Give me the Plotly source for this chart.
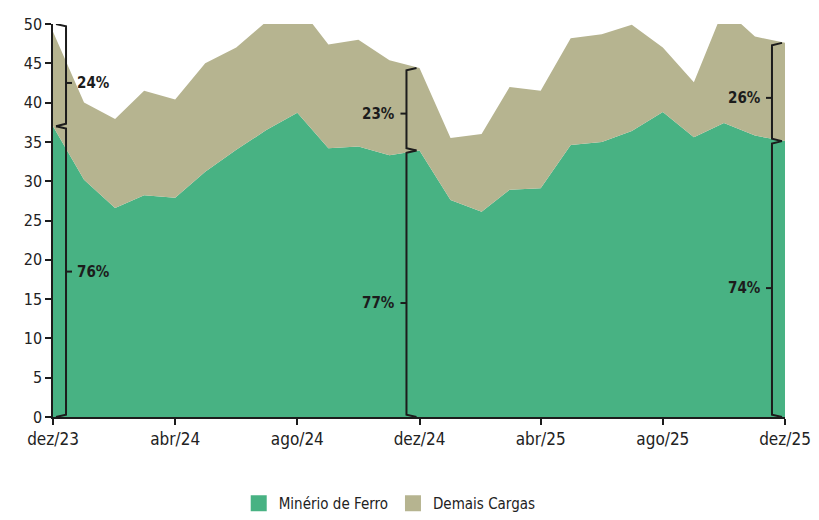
import pandas as pd
import plotly.graph_objects as go

# dados mensais (milhões de t), dez/23 a dez/25
meses = pd.date_range("2023-12-01", periods=25, freq="MS")
minerio = [37.0, 30.2, 26.6, 28.2, 27.9, 31.2, 34.0, 36.5, 38.7, 34.2, 34.4, 33.3, 33.9,
           27.6, 26.1, 28.9, 29.1, 34.6, 35.0, 36.4, 38.8, 35.6, 37.4, 35.8, 35.1]
total = [49.0, 40.0, 37.9, 41.5, 40.4, 45.0, 47.0, 50.3, 52.5, 47.4, 48.0, 45.4, 44.4,
         35.5, 36.0, 42.0, 41.5, 48.2, 48.7, 49.9, 47.0, 42.6, 52.0, 48.4, 47.6]
demais = [round(t - m, 1) for t, m in zip(total, minerio)]

tick_datas = ["2023-12-01", "2024-04-01", "2024-08-01", "2024-12-01",
              "2025-04-01", "2025-08-01", "2025-12-01"]
tick_textos = ["dez/23", "abr/24", "ago/24", "dez/24", "abr/25", "ago/25", "dez/25"]

verde = "#48b283"
bege = "#b6b490"
fonte = "DejaVu Sans Condensed, sans-serif"

fig = go.Figure()
fig.add_trace(go.Scatter(x=meses, y=minerio, name="Minério de Ferro", stackgroup="a",
                         mode="none", fillcolor=verde, showlegend=False))
fig.add_trace(go.Scatter(x=meses, y=demais, name="Demais Cargas", stackgroup="a",
                         mode="none", fillcolor=bege, showlegend=False))

# entradas da legenda com quadrados
for nome, cor in [("Minério de Ferro", verde), ("Demais Cargas", bege)]:
    fig.add_trace(go.Scatter(x=[None], y=[None], mode="markers", name=nome,
                             marker=dict(symbol="square", size=18, color=cor)))


def chave(idx, y0, y1, lado, texto, yl=None):
    # colchete vertical com rótulo de participação
    d = meses[idx]
    xb = d + pd.Timedelta(days=13 * lado)
    xg = d + pd.Timedelta(days=3 * lado)
    xt = d + pd.Timedelta(days=19 * lado)
    fig.add_trace(go.Scatter(
        x=[xg, xb, xb, xg], y=[y0, y0 + 0.3, y1 - 0.3, y1], mode="lines",
        line=dict(color="#1c1c1c", width=2), showlegend=False, hoverinfo="skip"))
    ym = (y0 + y1) / 2 if yl is None else yl
    fig.add_trace(go.Scatter(
        x=[xb, xt], y=[ym, ym], mode="lines",
        line=dict(color="#1c1c1c", width=2), showlegend=False, hoverinfo="skip"))
    fig.add_annotation(x=xt, y=ym, text="<b>%s</b>" % texto, showarrow=False,
                       xanchor="left" if lado > 0 else "right", xshift=3 * lado,
                       font=dict(size=15, color="#1c1c1c", family=fonte))


chave(0, 0, minerio[0], 1, "76%", 18.5)
chave(0, minerio[0], 50, 1, "24%", 42.5)
chave(12, 0, minerio[12], -1, "77%", 14.5)
chave(12, minerio[12], total[12], -1, "23%", 38.6)
chave(24, 0, minerio[24], -1, "74%", 16.4)
chave(24, minerio[24], total[24], -1, "26%", 40.6)

# a página tem 8px de margem no corpo: figura um pouco menor para caber
fig.update_layout(
    width=811, height=512,
    margin=dict(l=45, r=34, t=16, b=103),
    plot_bgcolor="white", paper_bgcolor="white",
    font=dict(family=fonte, size=15, color="#222"),
    showlegend=True,
    legend=dict(orientation="h", x=0.46, xanchor="center", yref="container", y=0.0,
                yanchor="bottom", font=dict(size=15), traceorder="normal", itemwidth=30),
)
fig.update_xaxes(range=["2023-12-01", "2025-12-01"], tickvals=tick_datas, ticktext=tick_textos,
                 showgrid=False, showline=True, linecolor="#1c1c1c", linewidth=2,
                 ticks="outside", ticklen=6, tickwidth=1.5, tickcolor="#1c1c1c",
                 tickfont=dict(size=17), automargin=False)
fig.update_yaxes(range=[0, 50], dtick=5, showgrid=False, showline=True, linecolor="#1c1c1c",
                 linewidth=1.5, ticks="outside", ticklen=6, tickwidth=1.5, tickcolor="#1c1c1c",
                 tickfont=dict(size=16), zeroline=False, automargin=False)

fig.write_html("out.html")
